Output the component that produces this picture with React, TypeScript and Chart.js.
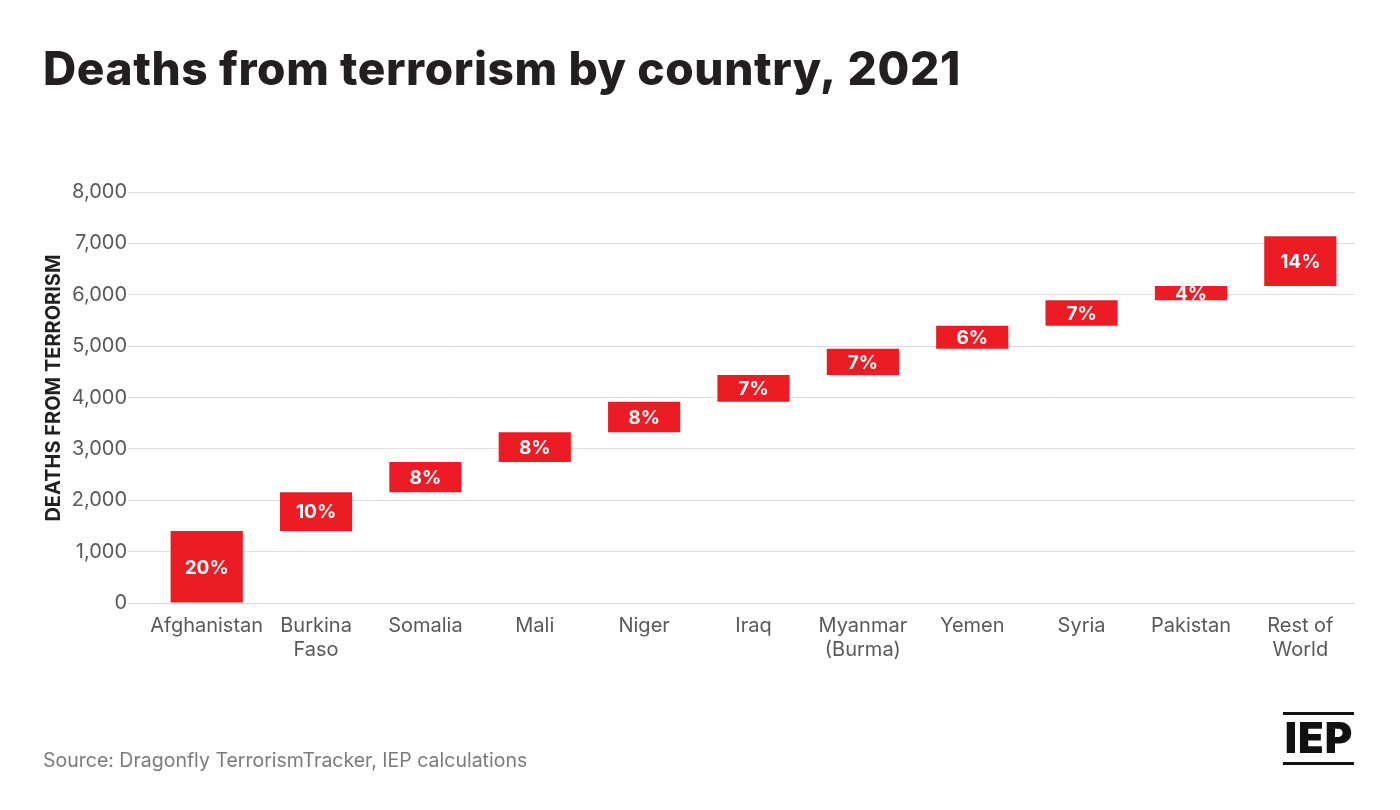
import React, { useEffect, useRef } from 'react';
import { Chart, registerables } from 'chart.js';

Chart.register(...registerables);

const countries: (string | string[])[] = [
  'Afghanistan',
  ['Burkina', 'Faso'],
  'Somalia',
  'Mali',
  'Niger',
  'Iraq',
  ['Myanmar', '(Burma)'],
  'Yemen',
  'Syria',
  'Pakistan',
  ['Rest of', 'World'],
];

const deaths = [1400, 755, 590, 577, 597, 519, 512, 448, 494, 278, 970];

const shareLabels = ['20%', '10%', '8%', '8%', '8%', '7%', '7%', '6%', '7%', '4%', '14%'];

const yMin = 0;
const yMax = 8000;
const yStep = 1000;

const titleText = 'Deaths from terrorism by country, 2021';
const sourceText = 'Source: Dragonfly TerrorismTracker, IEP calculations';
const axisTitle = 'DEATHS FROM TERRORISM';

const FONT = 'Inter, "Noto Sans", Arial, sans-serif';
const RED = '#ed1c24';

export default function App() {
  const ref = useRef<HTMLCanvasElement | null>(null);

  useEffect(() => {
    if (!ref.current) return;
    // waterfall ranges built from the per-country deaths
    const ranges: [number, number][] = [];
    let acc = 0;
    for (const d of deaths) {
      ranges.push([acc, acc + d]);
      acc += d;
    }

    const decor = {
      id: 'decor',
      afterDraw(chart: any) {
        const ctx = chart.ctx as CanvasRenderingContext2D;
        ctx.save();
        ctx.textBaseline = 'alphabetic';
        ctx.textAlign = 'left';
        // title
        ctx.fillStyle = '#231f20';
        ctx.font = `800 46px ${FONT}`;
        (ctx as any).letterSpacing = '0.6px';
        ctx.fillText(titleText, 43, 85);
        (ctx as any).letterSpacing = '0px';
        // y axis title
        ctx.save();
        ctx.translate(54, 388);
        ctx.rotate(-Math.PI / 2);
        ctx.textAlign = 'center';
        ctx.textBaseline = 'middle';
        ctx.font = `700 20px ${FONT}`;
        ctx.fillStyle = '#231f20';
        ctx.fillText(axisTitle, 0, 0);
        ctx.restore();
        // source
        ctx.fillStyle = '#7b7b7b';
        ctx.font = `400 19.5px ${FONT}`;
        ctx.fillText(sourceText, 43, 767);
        // logo
        ctx.fillStyle = '#111111';
        ctx.fillRect(1283, 712, 71, 3);
        ctx.fillRect(1283, 762, 71, 3);
        ctx.font = `900 42px ${FONT}`;
        ctx.textAlign = 'center';
        (ctx as any).letterSpacing = '1px';
        ctx.fillText('IEP', 1319, 753);
        (ctx as any).letterSpacing = '0px';
        ctx.restore();
      },
      afterDatasetsDraw(chart: any) {
        const ctx = chart.ctx as CanvasRenderingContext2D;
        const meta = chart.getDatasetMeta(0);
        ctx.save();
        ctx.fillStyle = '#ffffff';
        ctx.font = `700 19px ${FONT}`;
        ctx.textAlign = 'center';
        ctx.textBaseline = 'middle';
        meta.data.forEach((bar: any, i: number) => {
          const p = bar.getProps(['x', 'y', 'base'], true);
          ctx.fillText(shareLabels[i], p.x, (p.y + p.base) / 2 + 1);
        });
        ctx.restore();
      },
    };

    const chart = new Chart(ref.current, {
      type: 'bar',
      data: {
        labels: countries,
        datasets: [
          {
            data: ranges as any,
            backgroundColor: RED,
            borderWidth: 0,
            barPercentage: 0.66,
            categoryPercentage: 1,
          },
        ],
      },
      options: {
        responsive: false,
        animation: false,
        devicePixelRatio: 1,
        layout: { padding: { top: 192, right: 45, bottom: 147, left: 0 } },
        plugins: {
          legend: { display: false },
          tooltip: { enabled: false },
        },
        scales: {
          x: {
            grid: { display: false, drawTicks: false },
            border: { display: false },
            ticks: {
              color: '#58595b',
              font: { family: FONT, size: 20 },
              padding: 11,
              maxRotation: 0,
              autoSkip: false,
            },
            afterFit: (s: any) => {
              s.height = 60;
            },
          },
          y: {
            min: yMin,
            max: yMax,
            border: { display: false },
            grid: {
              color: '#dedede',
              lineWidth: 1,
              tickLength: 24,
              drawTicks: true,
            },
            ticks: {
              stepSize: yStep,
              color: '#58595b',
              font: { family: FONT, size: 20 },
              padding: 1,
              callback: (v: any) => Number(v).toLocaleString('en-US'),
            },
            title: { display: false },
            afterFit: (s: any) => {
              s.width = 152;
            },
          },
        },
      },
      plugins: [decor],
    });
    return () => chart.destroy();
  }, []);

  return (
    <div style={{ position: 'absolute', left: 0, top: 0, width: 1400, height: 810, background: '#fff' }}>
      <canvas ref={ref} width={1400} height={810} style={{ display: 'block' }} />
    </div>
  );
}
